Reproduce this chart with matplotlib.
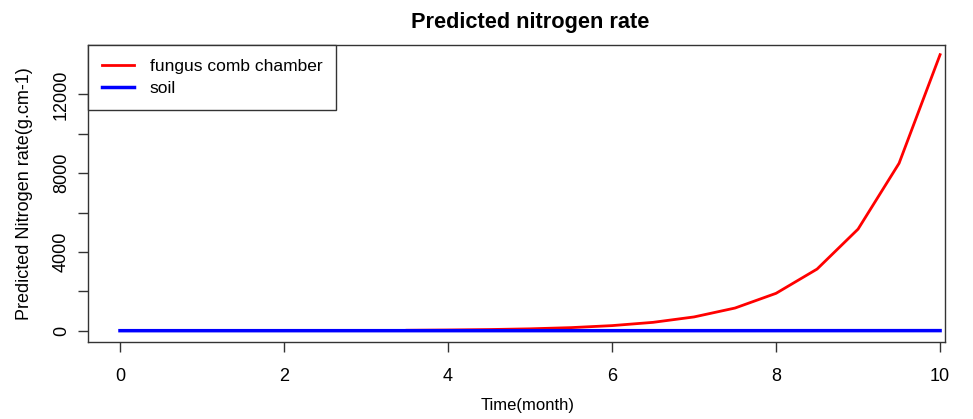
import matplotlib
matplotlib.use("Agg")
import matplotlib.pyplot as plt
import numpy as np

plt.rcParams['font.family'] = ['Liberation Sans', 'DejaVu Sans']

# Data
fungus_x = [3.5, 4, 4.5, 5, 5.5, 6, 6.5, 7, 7.5, 8, 8.5, 9, 9.5, 10]
fungus_y = [21, 35, 57, 94, 155, 257, 423, 698, 1150, 1897, 3128, 5157, 8500, 14015]
soil_x = [0, 0.5, 1, 1.5, 2, 2.5, 3, 3.5, 4, 4.5, 5, 5.5, 6, 6.5, 7, 7.5, 8, 8.5, 9, 9.5, 10]
soil_y = [0.0, 0.0, 0.0, 0.0, 0.0, 0.1, 0.1, 0.1, 0.1, 0.2, 0.2, 0.3, 0.4, 0.5, 0.6, 0.8, 1.0, 1.3, 1.7, 2.2, 2.8]
xticks = [0, 2, 4, 6, 8, 10]
yticks = [0, 2000, 4000, 6000, 8000, 10000, 12000]
ylabels_shown = [0, 4000, 8000, 12000]

fig = plt.figure(figsize=(9.73, 4.19), dpi=100)
ax = fig.add_axes([88/973, 1 - 342/419, (945-88)/973, (342-45)/419])

ax.plot(fungus_x, fungus_y, color='red', lw=2)
ax.plot(soil_x, soil_y, color='blue', lw=2.5)

ax.set_xlim(-0.39, 10.06)
ax.set_ylim(-575, 14506)

ax.set_xticks(xticks)
ax.set_xticklabels([str(v) for v in xticks])
ax.set_yticks(yticks)
ax.set_yticklabels([str(v) if v in ylabels_shown else '' for v in yticks],
                   rotation=90, va='center')
ax.tick_params(direction='out', length=7, width=1, labelsize=13, pad=6, color='#333333')
ax.tick_params(axis='x', pad=12)
for s in ax.spines.values():
    s.set_color('#333333')
    s.set_linewidth(1)

ax.set_title('Predicted nitrogen rate', fontsize=15.7, fontweight='bold', pad=12, x=0.516)
ax.set_xlabel('Time(month)', fontsize=12, labelpad=9, x=0.513)
ax.set_ylabel('Predicted Nitrogen rate(g.cm-1)', fontsize=13, labelpad=14)

leg = ax.legend(['fungus comb chamber', 'soil'], loc='upper left',
                bbox_to_anchor=(0, 1), borderaxespad=0, fontsize=12.5,
                fancybox=False, framealpha=1, edgecolor='#333333',
                handlelength=1.85, borderpad=0.8, labelspacing=0.42, handletextpad=0.9)
leg.get_frame().set_linewidth(1)

fig.savefig('out.png', dpi=100)
